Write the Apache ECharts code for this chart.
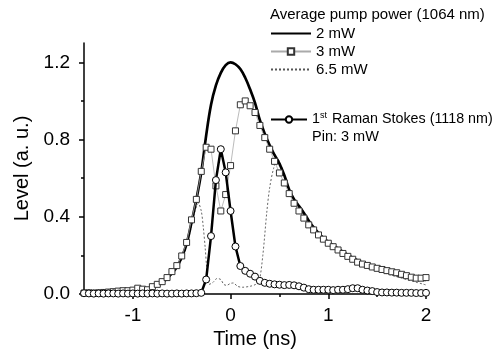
<!DOCTYPE html>
<html>
<head>
<meta charset="utf-8">
<script src="https://cdn.jsdelivr.net/npm/echarts@6/dist/echarts.min.js"></script>
<style>html,body{margin:0;padding:0;background:#fff;}#chart{width:496px;height:351px;}</style>
</head>
<body>
<div id="chart"></div>
<script>
// ---- data ----
const timeGrid = [-1.5,-1.45,-1.4,-1.35,-1.3,-1.25,-1.2,-1.15,-1.1,-1.05,-1.0,
  -0.95,-0.9,-0.85,-0.8,-0.75,-0.7,-0.65,-0.6,-0.55,-0.5,-0.45,-0.4,-0.35,-0.3,-0.25,-0.2,-0.15,-0.1,-0.05,0.0,
  0.05,0.1,0.15,0.2,0.25,0.3,0.35,0.4,0.45,0.5,0.55,0.6,0.65,0.7,0.75,0.8,0.85,0.9,0.95,1.0,
  1.05,1.1,1.15,1.2,1.25,1.3,1.35,1.4,1.45,1.5,1.55,1.6,1.65,1.7,1.75,1.8,1.85,1.9,1.95,2.0];

const pump3mW = [0.005,0.006,0.005,0.006,0.008,0.01,0.012,0.015,0.017,0.017,0.02,
  0.03,0.025,0.022,0.038,0.05,0.064,0.085,0.116,0.147,0.197,0.267,0.384,0.49,0.635,0.76,0.75,0.56,0.43,0.515,0.665,
  0.845,0.98,1.0,0.975,0.94,0.873,0.81,0.75,0.687,0.627,0.575,0.52,0.47,0.43,0.393,0.358,0.332,0.306,0.284,0.263,
  0.245,0.228,0.21,0.195,0.18,0.165,0.155,0.148,0.14,0.133,0.127,0.121,0.115,0.11,0.102,0.095,0.087,0.082,0.082,0.085];

const raman = [0.004,0.003,0.002,0.003,0.002,0.003,0.003,0.002,0.003,0.002,0.003,
  0.002,0.003,0.002,0.003,0.002,0.003,0.002,0.002,0.003,0.002,0.003,0.003,0.004,0.006,0.075,0.3,0.59,0.75,0.63,0.43,
  0.246,0.145,0.12,0.105,0.09,0.068,0.058,0.053,0.05,0.048,0.046,0.047,0.045,0.04,0.033,0.025,0.022,0.022,0.022,0.022,
  0.02,0.022,0.022,0.025,0.03,0.03,0.022,0.018,0.015,0.01,0.008,0.008,0.007,0.007,0.006,0.006,0.006,0.005,0.005,0.006];

const time2mW = [-1.5,-1.4,-1.3,-1.2,-1.1,-1.0,-0.9,-0.85,-0.8,-0.75,-0.7,-0.65,-0.6,-0.55,-0.5,-0.45,-0.4,-0.35,-0.3,-0.25,-0.2,-0.15,-0.1,-0.05,0.0,
  0.05,0.1,0.15,0.2,0.25,0.3,0.35,0.4,0.45,0.5,0.55,0.6,0.65,0.7,0.75,0.8,0.85,0.9,0.95,1.0,1.1,1.2,1.3,1.4,1.5,1.6,1.7,1.8,1.9,2.0];
const pump2mW = [0.0,0.002,0.005,0.008,0.012,0.015,0.02,0.025,0.033,0.045,0.06,0.08,0.108,0.14,0.19,0.26,0.37,0.49,0.63,0.82,0.98,1.08,1.145,1.185,1.2,
  1.19,1.165,1.12,1.06,0.99,0.9,0.83,0.77,0.72,0.675,0.615,0.54,0.49,0.455,0.42,0.38,0.345,0.316,0.29,0.27,0.235,0.203,0.174,0.15,0.13,0.114,0.099,0.088,0.079,0.073];

const time65mW = [-1.5,-1.2,-1.0,-0.9,-0.8,-0.7,-0.6,-0.5,-0.45,-0.4,-0.37,-0.33,-0.3,-0.28,-0.26,-0.245,-0.23,-0.22,-0.18,-0.14,-0.1,-0.07,-0.04,0.0,0.03,0.07,0.12,0.2,0.25,0.29,0.33,0.37,0.4,0.44,0.48,0.52,0.6,0.7,0.8,0.9,1.0,1.2,1.4,1.6,1.8,2.0];
const pump65mW = [0.0,0.005,0.012,0.018,0.03,0.055,0.1,0.18,0.25,0.35,0.42,0.47,0.43,0.35,0.24,0.14,0.07,0.05,0.06,0.08,0.075,0.05,0.045,0.055,0.057,0.04,0.035,0.04,0.048,0.06,0.2,0.42,0.55,0.65,0.7,0.66,0.53,0.445,0.37,0.31,0.26,0.195,0.145,0.105,0.075,0.047];

const xLabels = [-1, 0, 1, 2];
const xMinor = [-0.5, 0.5, 1.5];
const yLabels = [0, 0.4, 0.8, 1.2];
const yMinor = [0.2, 0.6, 1.0];

const legendTitle = 'Average pump power (1064 nm)';
const pumpNames = ['2 mW', '3 mW', '6.5 mW'];
const ramanName = 'Raman';
const pinText = 'Pin: 3 mW';

// ---- chart ----
const FONT = '"Liberation Sans", Arial, Helvetica, sans-serif';
const zip = (xs, ys) => xs.map((x, i) => [x, ys[i]]);
const chart = echarts.init(document.getElementById('chart'), null, {renderer: 'canvas'});

const baseAxisX = {
  type: 'value', min: -1.5, max: 2, position: 'bottom',
  splitLine: {show: false}
};
const baseAxisY = {
  type: 'value', min: 0, max: 1.3, position: 'left',
  splitLine: {show: false}
};

chart.setOption({
  animation: false,
  backgroundColor: '#fff',
  textStyle: {fontFamily: FONT},
  title: [
    {text: legendTitle, left: 270, top: 7, padding: 0, textStyle: {fontSize: 15, fontWeight: 'normal', color: '#000', fontFamily: FONT}},
    {text: pinText, left: 312, top: 129, padding: 0, textStyle: {fontSize: 14.5, fontWeight: 'normal', color: '#000', fontFamily: FONT}}
  ],
  grid: {left: 84, right: 70, top: 43, bottom: 57, containLabel: false, outerBoundsMode: 'none'},
  legend: [
    {
      data: [{name: pumpNames[0], itemStyle: {opacity: 0}}, pumpNames[1], {name: pumpNames[2], itemStyle: {opacity: 0}}],
      orient: 'vertical', left: 270, top: 25, padding: 0,
      itemWidth: 40, itemHeight: 8, itemGap: 1,
      textStyle: {fontSize: 15, color: '#000', fontFamily: FONT, lineHeight: 17}
    },
    {
      data: [ramanName], orient: 'vertical', left: 270, top: 111, padding: 0,
      itemWidth: 36, itemHeight: 8,
      formatter: () => '1{sup|st} Raman Stokes (1118 nm)',
      textStyle: {fontSize: 14.3, color: '#000', fontFamily: FONT, lineHeight: 17,
        rich: {sup: {fontSize: 9, verticalAlign: 'top', padding: [0, 1, 6, 0], fontFamily: FONT, color: '#000'}}}
    }
  ],
  xAxis: [
    Object.assign({}, baseAxisX, {
      name: 'Time (ns)', nameLocation: 'middle', nameGap: 34,
      nameTextStyle: {fontSize: 20, color: '#000', fontFamily: FONT},
      axisLine: {show: true, onZero: false, lineStyle: {color: '#000', width: 1.5}},
      axisTick: {show: true, inside: false, length: 5, customValues: xLabels, lineStyle: {color: '#000', width: 1.5}},
      axisLabel: {show: true, margin: 12, fontSize: 19, color: '#000', fontFamily: FONT, customValues: xLabels}
    }),
    Object.assign({}, baseAxisX, {
      axisLine: {show: false, onZero: false},
      axisTick: {show: true, inside: false, length: 3, customValues: xMinor, lineStyle: {color: '#000', width: 1.5}},
      axisLabel: {show: false}
    })
  ],
  yAxis: [
    Object.assign({}, baseAxisY, {
      name: 'Level (a. u.)', nameLocation: 'middle', nameGap: 50,
      nameTextStyle: {fontSize: 20, color: '#000', fontFamily: FONT},
      axisLine: {show: true, onZero: false, lineStyle: {color: '#000', width: 1.5}},
      axisTick: {show: true, inside: false, length: 5, customValues: yLabels, lineStyle: {color: '#000', width: 1.5}},
      axisLabel: {show: true, margin: 14, fontSize: 19, color: '#000', fontFamily: FONT, customValues: yLabels,
        formatter: v => v.toFixed(1)}
    }),
    Object.assign({}, baseAxisY, {
      axisLine: {show: false, onZero: false},
      axisTick: {show: true, inside: false, length: 3, customValues: yMinor, lineStyle: {color: '#000', width: 1.5}},
      axisLabel: {show: false}
    })
  ],
  series: [
    {
      name: '6.5 mW', type: 'line', data: zip(time65mW, pump65mW), smooth: 0.3,
      symbol: 'none', z: 2,
      lineStyle: {color: '#555', width: 0.9, type: [2, 2]},
      itemStyle: {color: '#555'}
    },
    {
      name: '2 mW', type: 'line', data: zip(time2mW, pump2mW), smooth: 0.4,
      symbol: 'none', z: 3,
      lineStyle: {color: '#000', width: 2.7},
      itemStyle: {color: '#000'}
    },
    {
      name: '3 mW', type: 'line', data: zip(timeGrid, pump3mW),
      symbol: 'rect', symbolSize: 6, showAllSymbol: true, z: 4,
      lineStyle: {color: '#aaa', width: 0.8},
      itemStyle: {color: '#fff', borderColor: '#333', borderWidth: 1}
    },
    {
      name: ramanName, type: 'line', data: zip(timeGrid, raman),
      symbol: 'circle', symbolSize: 7, showAllSymbol: true, z: 5,
      lineStyle: {color: '#000', width: 2.5},
      itemStyle: {color: '#fff', borderColor: '#000', borderWidth: 1}
    }
  ]
});
</script>
</body>
</html>
